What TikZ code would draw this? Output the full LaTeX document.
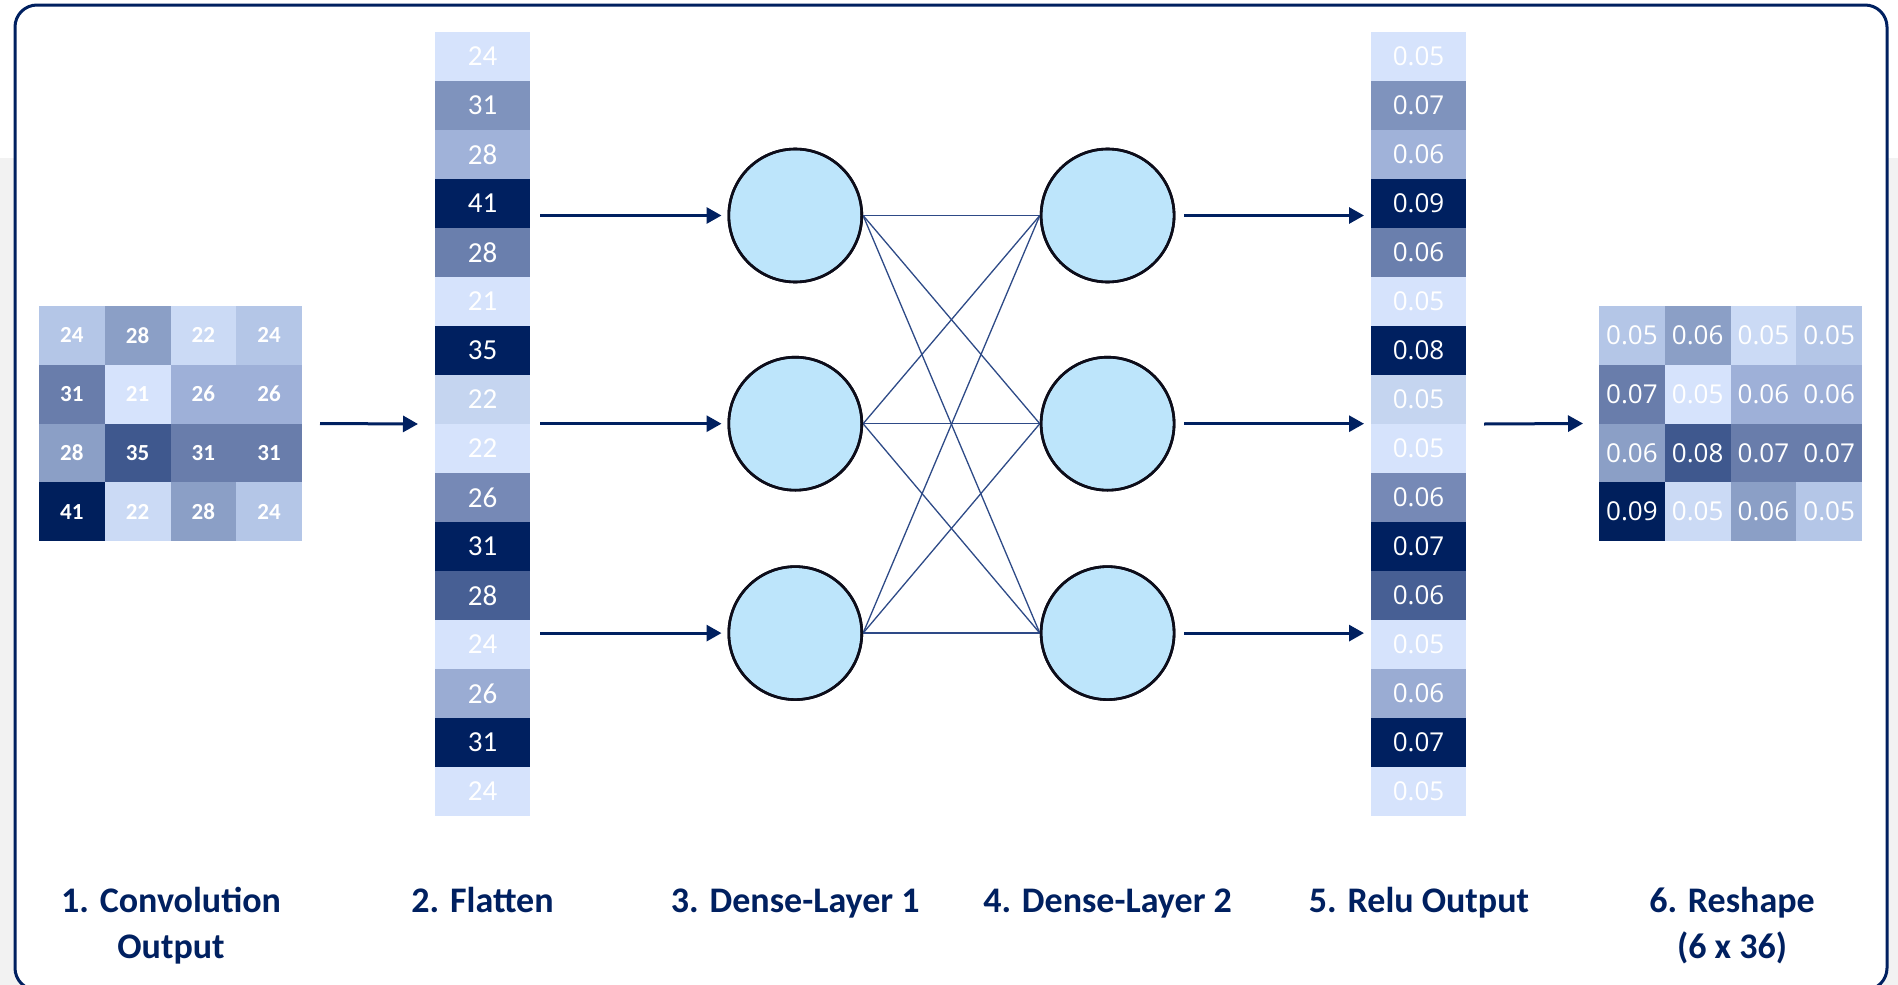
\documentclass[tikz,border=0pt]{standalone}
\usepackage{fontspec}
\setmainfont{Carlito}
\newfontfamily\valfont{Open Sans}
\usetikzlibrary{arrows.meta,calc}

\definecolor{navy}{HTML}{002060}
\definecolor{linkblue}{HTML}{2E4A87}
\definecolor{neuron}{HTML}{BDE5FB}
\definecolor{rim}{HTML}{0D0D1A}
\definecolor{pagegray}{HTML}{F2F2F2}

\tikzset{
  cell/.style={inner sep=0pt, outer sep=0pt, text=white},
  gridnum/.style={cell, minimum width=65.75pt, minimum height=58.75pt,
    font=\bfseries\fontsize{23}{28}\selectfont},
  colnum/.style={cell, minimum width=95pt, minimum height=49pt,
    font=\fontsize{29}{34}\selectfont},
  relunum/.style={cell, minimum width=95pt, minimum height=49pt,
    font=\valfont\fontsize{26}{30}\selectfont},
  reshnum/.style={cell, minimum width=65.75pt, minimum height=58.75pt,
    font=\valfont\fontsize{26}{30}\selectfont},
  frame/.style={inner sep=0pt, outer sep=0pt},
  neuronnode/.style={circle, minimum size=133pt, inner sep=0pt, fill=neuron,
    draw=rim, line width=2.6pt},
  arr/.style={navy, line width=3pt, -{Triangle[length=15pt,width=16pt]}},
  link/.style={linkblue, line width=1.3pt},
  caption/.style={anchor=base, inner sep=0pt, text=navy,
    font=\bfseries\fontsize{36}{44}\selectfont}
}

\begin{document}
\begin{tikzpicture}[x=1pt,y=-1pt]
\useasboundingbox (0,0) rectangle (1898,985);

% page background and panel
\fill[pagegray] (0,158) rectangle (1898,985);
\draw[navy, line width=3pt, rounded corners=22pt, fill=white] (15,5) rectangle (1887,990);

% group frames used as connector ends
\node[frame, minimum width=263pt, minimum height=235pt] (convgrid) at (170.5,423.5) {};
\node[frame, minimum width=95pt, minimum height=784pt] (flat) at (482.5,424) {};
\node[frame, minimum width=95pt, minimum height=784pt] (relu) at (1418.5,424) {};
\node[frame, minimum width=263pt, minimum height=235pt] (resh) at (1730.5,423.5) {};

% 1. convolution output (4 x 4)
\foreach \row [count=\r] in {
  {24/B4C6E7,28/8B9FC6,22/CBDAF5,24/B4C6E7},
  {31/697DAB,21/D6E3FC,26/9EB0D8,26/9EB0D8},
  {28/8B9FC6,35/3F588E,31/697DAB,31/697DAB},
  {41/001F5C,22/CBDAF5,28/8B9FC6,24/B4C6E7}} {
  \foreach \v/\c [count=\k] in \row {
    \definecolor{cellcol}{HTML}{\c}
    \node[gridnum, fill=cellcol] (c-\r-\k) at ({39+(\k-0.5)*65.75},{306+(\r-0.5)*58.75}) {\v};
  }
}

% 2. flattened vector
\foreach \v/\c [count=\i] in {24/D6E3FC,31/7F93BD,28/A0B2D9,41/002060,28/6A7FAD,
  21/D6E3FC,35/002060,22/C5D5F0,22/D6E3FC,26/7689B6,31/002060,28/475F94,
  24/D6E3FC,26/9AACD3,31/002060,24/D6E3FC} {
  \definecolor{cellcol}{HTML}{\c}
  \node[colnum, fill=cellcol] (f\i) at (482.5,{32+(\i-0.5)*49}) {\v};
}

% 5. relu output vector
\foreach \v/\c [count=\i] in {0.05/D6E3FC,0.07/7F93BD,0.06/A0B2D9,0.09/002060,
  0.06/6A7FAD,0.05/D6E3FC,0.08/002060,0.05/C5D5F0,0.05/D6E3FC,0.06/7689B6,
  0.07/002060,0.06/475F94,0.05/D6E3FC,0.06/9AACD3,0.07/002060,0.05/D6E3FC} {
  \definecolor{cellcol}{HTML}{\c}
  \node[relunum, fill=cellcol] (r\i) at (1418.5,{32+(\i-0.5)*49}) {\v};
}

% 6. reshaped output
\foreach \row [count=\r] in {
  {0.05/B4C6E7,0.06/8B9FC6,0.05/CBDAF5,0.05/B4C6E7},
  {0.07/697DAB,0.05/D6E3FC,0.06/9EB0D8,0.06/9EB0D8},
  {0.06/8B9FC6,0.08/3F588E,0.07/697DAB,0.07/697DAB},
  {0.09/001F5C,0.05/CBDAF5,0.06/8B9FC6,0.05/B4C6E7}} {
  \foreach \v/\c [count=\k] in \row {
    \definecolor{cellcol}{HTML}{\c}
    \node[reshnum, fill=cellcol] (s-\r-\k) at ({1599+(\k-0.5)*65.75},{306+(\r-0.5)*58.75}) {\v};
  }
}

% dense layers
\node[neuronnode] (d1a) at (795.3,215.5) {};
\node[neuronnode] (d1b) at (795.3,423.7) {};
\node[neuronnode] (d1c) at (795.3,633.1) {};
\node[neuronnode] (d2a) at (1107.6,215.5) {};
\node[neuronnode] (d2b) at (1107.6,423.7) {};
\node[neuronnode] (d2c) at (1107.6,633.1) {};

% full connections between the two dense layers
\foreach \a in {a,b,c} {
  \foreach \b in {a,b,c} {
    \draw[link] (d1\a.east) -- (d2\b.west);
  }
}
% redraw rims over the link ends
\foreach \n in {d1a,d1b,d1c,d2a,d2b,d2c} {
  \draw[rim, line width=2.6pt] (\n) circle (66.5pt);
}

% data flow arrows
\draw[arr] ($(convgrid.east)+(18,0)$) -- ($(flat.west)+(-17,0)$);
\foreach \n in {a,b,c} {
  \draw[arr] ($(flat.east |- d1\n.west)+(10,0)$) -- ($(d1\n.west)+(-6,0)$);
  \draw[arr] ($(d2\n.east)+(9,0)$) -- ($(relu.west |- d2\n.east)+(-7,0)$);
}
\draw[arr] ($(relu.east)+(18,0)$) -- ($(resh.west)+(-16,0)$);

% captions
\node[caption] (lab1) at (171,912) {1. Convolution};
\node[caption] (lab1b) at (171,958) {Output};
\node[caption] (lab2) at (482.5,912) {2. Flatten};
\node[caption] (lab3) at (795.3,912) {3. Dense-Layer 1};
\node[caption] (lab4) at (1107.6,912) {4. Dense-Layer 2};
\node[caption] (lab5) at (1419,912) {5. Relu Output};
\node[caption] (lab6) at (1732,912) {6. Reshape};
\node[caption] (lab6b) at (1732,958) {(6 x 36)};
\end{tikzpicture}
\end{document}
